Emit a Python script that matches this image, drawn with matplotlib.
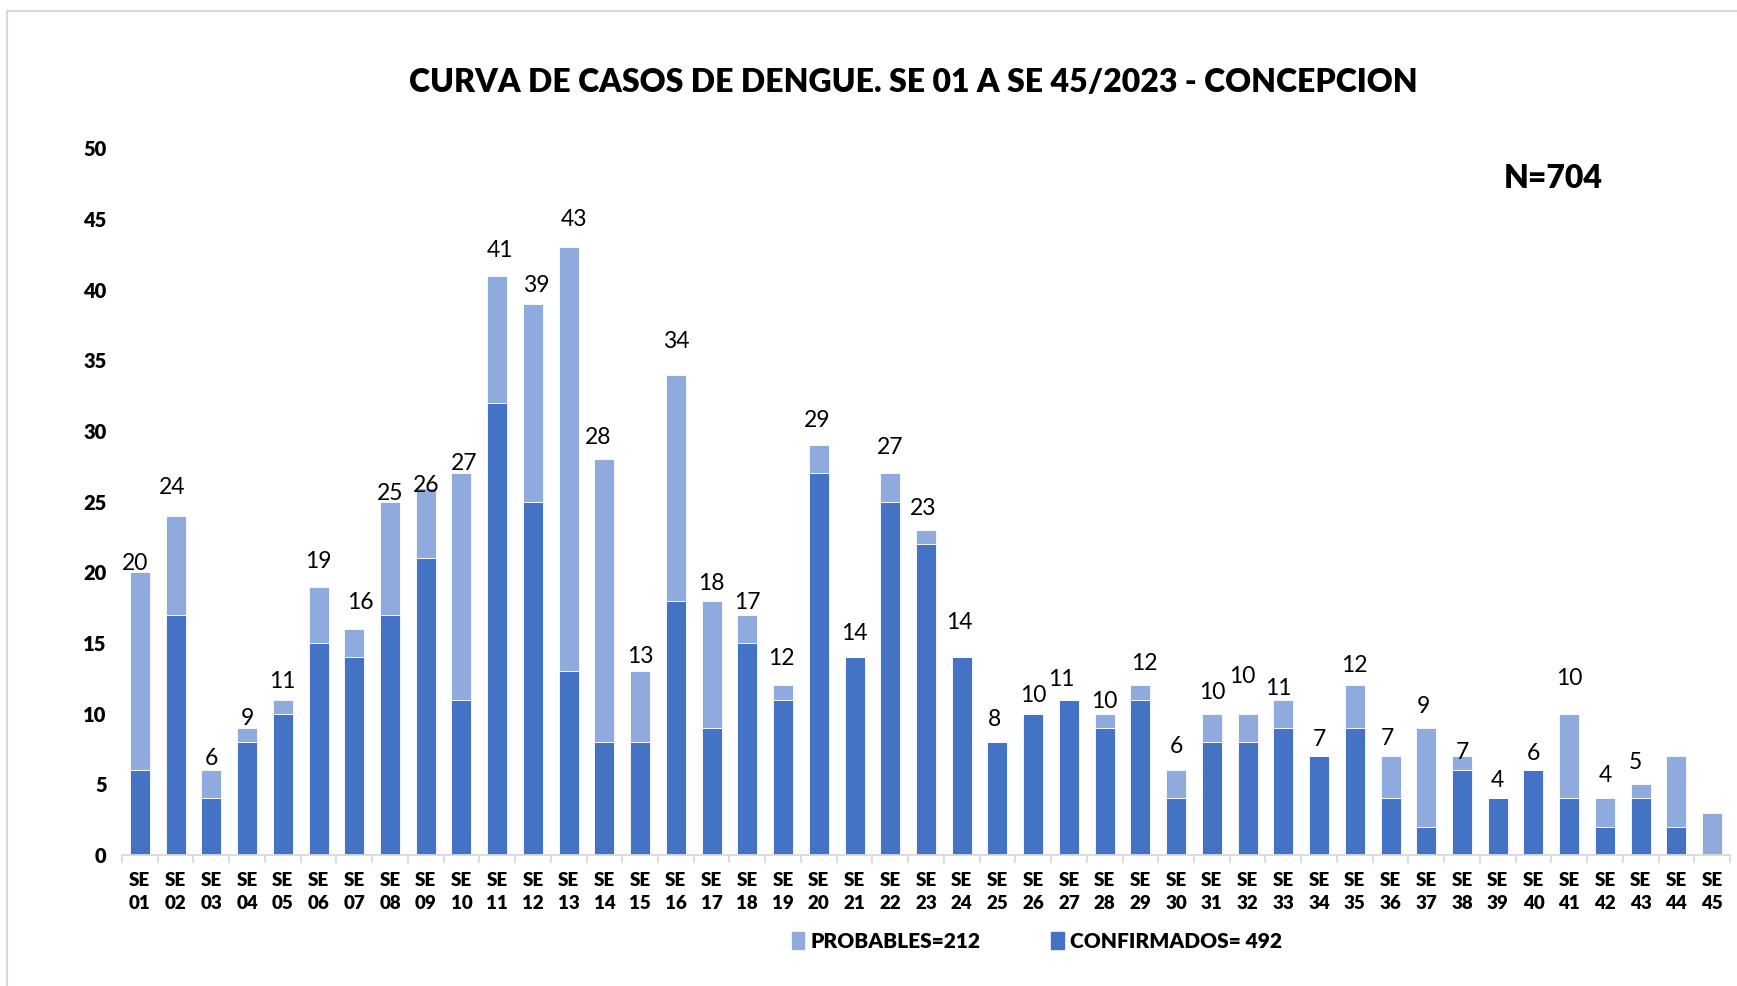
import matplotlib
matplotlib.use("Agg")
import matplotlib.pyplot as plt
from matplotlib.lines import Line2D
from matplotlib.patches import Patch

plt.rcParams['font.family'] = ['Lato', 'DejaVu Sans']

weeks = [f"{i:02d}" for i in range(1, 46)]
confirmados = [6, 17, 4, 8, 10, 15, 14, 17, 21, 11, 32, 25, 13, 8, 8, 18, 9, 15, 11, 27,
               14, 25, 22, 14, 8, 10, 11, 9, 11, 4, 8, 8, 9, 7, 9, 4, 2, 6, 4, 6,
               4, 2, 4, 2, 0]
probables = [14, 7, 2, 1, 1, 4, 2, 8, 5, 16, 9, 14, 30, 20, 5, 16, 9, 2, 1, 2,
             0, 2, 1, 0, 0, 0, 0, 1, 1, 2, 2, 2, 2, 0, 3, 3, 7, 1, 0, 0,
             6, 2, 1, 5, 3]
# weeks whose total is printed above the bar in the reference
labelled = [True] * 43 + [False, False]

# hand-placed data labels in the reference: nudge of the label centre (pixels)
label_dy_px = [12, 31, 15, 12, 21, 28, 29, 11, 5, 13, 28, 21, 31, 25, 18, 36, 20, 15, 30, 28,
               27, 29, 25, 38, 25, 21, 23, 15, 25, 27, 24, 40, 14, 20, 23, 21, 24, 7, 21, 20,
               38, 26, 25, 25, 25]
label_dx_px = [-5, -3, 0, 0, 0, 0, 6, 0, 0, 3, 3, 3, 5, -6, 0, 0, 0, 0, -2, -2,
               0, 0, -3, -2, -3, 0, -8, 0, 4, 0, 0, -5, -5, 0, 0, -3, -3, 0, 0, 0,
               0, 0, -5, 0, 0]

title = "CURVA DE CASOS DE DENGUE. SE 01 A SE 45/2023 - CONCEPCION"
c_conf = "#4472C4"
c_prob = "#8FAADC"

W, H = 1737, 986
fig = plt.figure(figsize=(W / 100, H / 100), dpi=100)
ax = fig.add_axes([122 / W, 1 - 855 / H, (1730 - 122) / W, (855 - 148.5) / H])

x = list(range(len(weeks)))
totals = [c + p for c, p in zip(confirmados, probables)]
ax.bar(x, confirmados, width=0.56, color=c_conf, edgecolor="white", linewidth=0.6, zorder=2)
ax.bar(x, probables, bottom=confirmados, width=0.56, color=c_prob, edgecolor="white",
       linewidth=0.6, zorder=2)

px2pt = 72 / 100
for xi, t, show, dx, dy in zip(x, totals, labelled, label_dx_px, label_dy_px):
    if show:
        ax.annotate(str(t), (xi, t), xytext=(dx * px2pt, (dy - 3) * px2pt),
                    textcoords="offset points", ha="center", va="center",
                    fontsize=16.5, color="black", zorder=3)

ax.set_xlim(-0.5, len(weeks) - 0.5)
ax.set_ylim(0, 50)
ax.set_yticks(range(0, 51, 5))
ax.set_yticklabels([str(v) for v in range(0, 51, 5)], fontsize=14.5, fontweight="heavy")
ax.tick_params(axis="y", length=0, pad=11)

ax.set_xticks(x)
ax.set_xticklabels([f"SE\n{w}" for w in weeks], fontsize=13.5, fontweight="heavy",
                   linespacing=1.45)
ax.tick_params(axis="x", length=0, pad=12)
ax.set_xticks([i - 0.5 for i in range(len(weeks) + 1)], minor=True)
ax.tick_params(axis="x", which="minor", length=6, width=1.3, color="#D9D9D9")

for s in ["top", "right", "left"]:
    ax.spines[s].set_visible(False)
ax.spines["bottom"].set_color("#D9D9D9")
ax.spines["bottom"].set_linewidth(1.3)

fig.text(0.5 * (408 + 1419) / W, 1 - 82 / H, title, ha="center", va="center",
         fontsize=23, fontweight="heavy")
fig.text(1553 / W, 1 - 178 / H, "N=704", ha="center", va="center",
         fontsize=23, fontweight="heavy")

handles = [Patch(color=c_prob, label="PROBABLES=212"),
           Patch(color=c_conf, label="CONFIRMADOS= 492")]
fig.legend(handles=handles, loc="center", bbox_to_anchor=(1037 / W, 1 - 941 / H),
           ncol=2, frameon=False, prop={"size": 15, "weight": "heavy"},
           handlelength=0.6, handleheight=0.9, handletextpad=0.3, columnspacing=3.4)

# outer chart-area border (top and left visible in the reference)
fig.add_artist(Line2D([7 / W, 1], [1 - 11 / H, 1 - 11 / H], color="#D9D9D9",
                      linewidth=1.5, transform=fig.transFigure))
fig.add_artist(Line2D([7 / W, 7 / W], [0, 1 - 11 / H], color="#D9D9D9",
                      linewidth=1.5, transform=fig.transFigure))

fig.savefig("out.png", dpi=100, facecolor="white")
